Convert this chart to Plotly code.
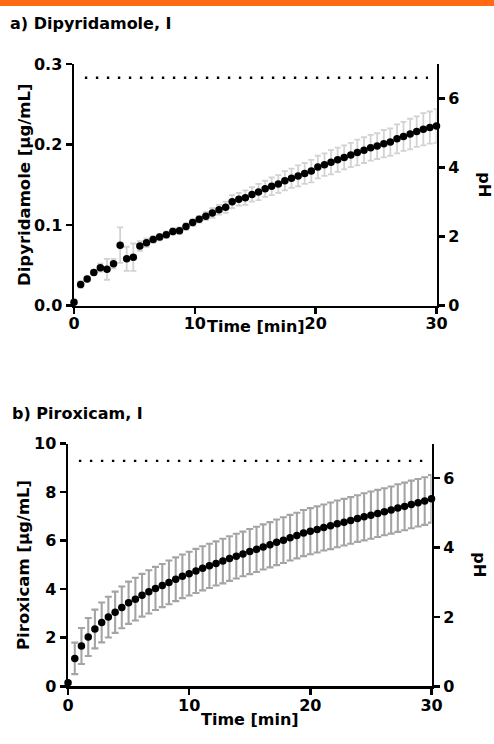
import plotly.graph_objects as go

W, H = 494, 744

# ---------------- data ----------------
TIME_A = [0, 0.55, 1.09, 1.64, 2.18, 2.73, 3.27, 3.82, 4.36, 4.91, 5.45, 6.0, 6.55, 7.09,
          7.64, 8.18, 8.73, 9.27, 9.82, 10.36, 10.91, 11.45, 12.0, 12.55, 13.09, 13.64,
          14.18, 14.73, 15.27, 15.82, 16.36, 16.91, 17.45, 18.0, 18.55, 19.09, 19.64,
          20.18, 20.73, 21.27, 21.82, 22.36, 22.91, 23.45, 24.0, 24.55, 25.09, 25.64,
          26.18, 26.73, 27.27, 27.82, 28.36, 28.91, 29.45, 30.0]
DIPY_MEAN = [0.004, 0.026, 0.033, 0.041, 0.047, 0.045, 0.052, 0.075, 0.058, 0.060,
             0.074, 0.078, 0.082, 0.085, 0.088, 0.092, 0.093, 0.098, 0.103, 0.107,
             0.111, 0.115, 0.119, 0.122, 0.129, 0.132, 0.134, 0.138, 0.141, 0.145,
             0.148, 0.151, 0.155, 0.158, 0.161, 0.164, 0.167, 0.172, 0.175, 0.178,
             0.181, 0.184, 0.187, 0.190, 0.193, 0.196, 0.198, 0.201, 0.203, 0.207,
             0.210, 0.213, 0.216, 0.219, 0.221, 0.223]
DIPY_SD = [0.002, 0.004, 0.003, 0.003, 0.005, 0.013, 0.006, 0.022, 0.015, 0.017,
           0.006, 0.005, 0.004, 0.004, 0.004, 0.004, 0.004, 0.004, 0.004, 0.004,
           0.005, 0.006, 0.006, 0.007, 0.008, 0.008, 0.009, 0.009, 0.010, 0.010,
           0.011, 0.011, 0.012, 0.012, 0.013, 0.013, 0.014, 0.014, 0.014, 0.015,
           0.015, 0.015, 0.015, 0.016, 0.016, 0.016, 0.016, 0.017, 0.017, 0.018,
           0.018, 0.019, 0.019, 0.020, 0.020, 0.021]

TIME_B = [0, 0.56, 1.11, 1.67, 2.22, 2.78, 3.33, 3.89, 4.44, 5.0, 5.56, 6.11, 6.67, 7.22,
          7.78, 8.33, 8.89, 9.44, 10.0, 10.56, 11.11, 11.67, 12.22, 12.78, 13.33, 13.89,
          14.44, 15.0, 15.56, 16.11, 16.67, 17.22, 17.78, 18.33, 18.89, 19.44, 20.0,
          20.56, 21.11, 21.67, 22.22, 22.78, 23.33, 23.89, 24.44, 25.0, 25.56, 26.11,
          26.67, 27.22, 27.78, 28.33, 28.89, 29.44, 30.0]
PIRO_MEAN = [0.15, 1.15, 1.66, 2.03, 2.36, 2.63, 2.85, 3.05, 3.25, 3.44,
             3.59, 3.75, 3.89, 4.03, 4.15, 4.28, 4.41, 4.53, 4.64, 4.75,
             4.86, 4.96, 5.06, 5.16, 5.26, 5.36, 5.45, 5.55, 5.64, 5.74,
             5.83, 5.93, 6.02, 6.12, 6.21, 6.31, 6.39, 6.46, 6.54, 6.61,
             6.69, 6.76, 6.83, 6.91, 6.98, 7.05, 7.12, 7.19, 7.26, 7.34,
             7.41, 7.49, 7.56, 7.63, 7.72]
PIRO_SD = [0.05, 0.65, 0.74, 0.78, 0.80, 0.82, 0.84, 0.85, 0.86, 0.87,
           0.88, 0.88, 0.89, 0.89, 0.89, 0.90, 0.90, 0.90, 0.90, 0.91,
           0.91, 0.91, 0.91, 0.92, 0.92, 0.92, 0.92, 0.93, 0.93, 0.93,
           0.93, 0.94, 0.94, 0.94, 0.94, 0.95, 0.95, 0.95, 0.95, 0.96,
           0.96, 0.96, 0.96, 0.96, 0.97, 0.97, 0.97, 0.97, 0.97, 0.98,
           0.98, 0.98, 0.98, 0.98, 0.98]

PH_TIME_A = [0.9, 29.3]
PH_A = [6.6, 6.6]
PH_TIME_B = [0.9, 29.9]
PH_B = [6.5, 6.5]

TITLES = ["a) Dipyridamole, I", "b) Piroxicam, I"]
Y_TITLES = ["Dipyridamole [µg/mL]", "Piroxicam [µg/mL]"]
X_TITLE = "Time [min]"
PH_TITLE = "pH"
X_TICKS = [0, 10, 20, 30]
YA_TICKS = [0.0, 0.1, 0.2, 0.3]
YB_TICKS = [0, 2, 4, 6, 8, 10]
PH_TICKS = [0, 2, 4, 6]

# ---------------- style ----------------
FONT = "DejaVu Sans"
ORANGE = "#FF6A13"


def px(x):
    return x / W


def py(y):
    return 1 - y / H


fig = go.Figure()

# Panel a
fig.add_trace(go.Scatter(
    x=TIME_A, y=DIPY_MEAN, mode="markers", xaxis="x", yaxis="y",
    marker=dict(color="black", size=7.5),
    error_y=dict(type="data", array=DIPY_SD, color="#d2d2d2", thickness=1.8, width=3),
    cliponaxis=False, showlegend=False, hoverinfo="skip"))
fig.add_trace(go.Scatter(
    x=PH_TIME_A, y=PH_A, mode="lines", xaxis="x", yaxis="y2",
    line=dict(color="black", width=2.4, dash="2.4px,8.6px"), showlegend=False,
    hoverinfo="skip"))

# Panel b
fig.add_trace(go.Scatter(
    x=TIME_B, y=PIRO_MEAN, mode="markers", xaxis="x2", yaxis="y3",
    marker=dict(color="black", size=7.5),
    error_y=dict(type="data", array=PIRO_SD, color="#a4a4a4", thickness=2.1, width=3.5),
    cliponaxis=False, showlegend=False, hoverinfo="skip"))
fig.add_trace(go.Scatter(
    x=PH_TIME_B, y=PH_B, mode="lines", xaxis="x2", yaxis="y4",
    line=dict(color="black", width=2.4, dash="2.4px,8.6px"), showlegend=False,
    hoverinfo="skip"))

axis_common = dict(showgrid=False, zeroline=False, showline=True, linecolor="black",
                   linewidth=2.5, ticks="outside", ticklen=6, tickwidth=2.5,
                   tickcolor="black", automargin=False,
                   tickfont=dict(family=FONT, size=16, color="black", weight="bold"))

xa_dom = [px(74), px(436.5)]
ya_dom = [py(305.5), py(64)]
xb_dom = [px(68), px(431.5)]
yb_dom = [py(686.3), py(443.5)]

fig.update_layout(
    width=W, height=H,
    margin=dict(l=0, r=0, t=0, b=0, autoexpand=False),
    paper_bgcolor="white", plot_bgcolor="white",
    hovermode=False,
    xaxis=dict(domain=xa_dom, range=[0, 30], tickvals=X_TICKS, anchor="y",
               ticklabelstandoff=-4, **axis_common),
    yaxis=dict(domain=ya_dom, range=[0, 0.3], tickvals=YA_TICKS, tickformat=".1f",
               anchor="x", **axis_common),
    yaxis2=dict(domain=ya_dom, range=[0, 7], tickvals=PH_TICKS, overlaying="y",
                side="right", anchor="x", **axis_common),
    xaxis2=dict(domain=xb_dom, range=[0, 30], tickvals=X_TICKS, anchor="y3",
                ticklabelstandoff=-3, **axis_common),
    yaxis3=dict(domain=yb_dom, range=[0, 10], tickvals=YB_TICKS, anchor="x2", **axis_common),
    yaxis4=dict(domain=yb_dom, range=[0, 7], tickvals=PH_TICKS, overlaying="y3",
                side="right", anchor="x2", **axis_common),
)

fig.add_shape(type="rect", xref="paper", yref="paper", x0=0, x1=1, y0=py(6), y1=1,
              fillcolor=ORANGE, line=dict(width=0), layer="above")


def ann(text, x, y, size=16.5, angle=0, xanchor="center"):
    fig.add_annotation(text=text, x=px(x), y=py(y), xref="paper", yref="paper",
                       showarrow=False, textangle=angle, xanchor=xanchor, yanchor="middle",
                       font=dict(family=FONT, size=size, color="black", weight="bold"))


ann(TITLES[0], 8, 24, size=16, xanchor="left")
ann(TITLES[1], 10, 414, size=16, xanchor="left")
ann(Y_TITLES[0], 24, 185, angle=-90)
ann(Y_TITLES[1], 23, 565, angle=-90)
ann(PH_TITLE, 485, 185, angle=90)
ann(PH_TITLE, 480, 565, angle=90)
ann(X_TITLE, 256, 327, size=16)
ann(X_TITLE, 250, 719, size=16)

fig.write_html("out.html",
               config={"displayModeBar": False, "staticPlot": True},
               post_script="document.body.style.margin='0';document.body.style.padding='0';")
